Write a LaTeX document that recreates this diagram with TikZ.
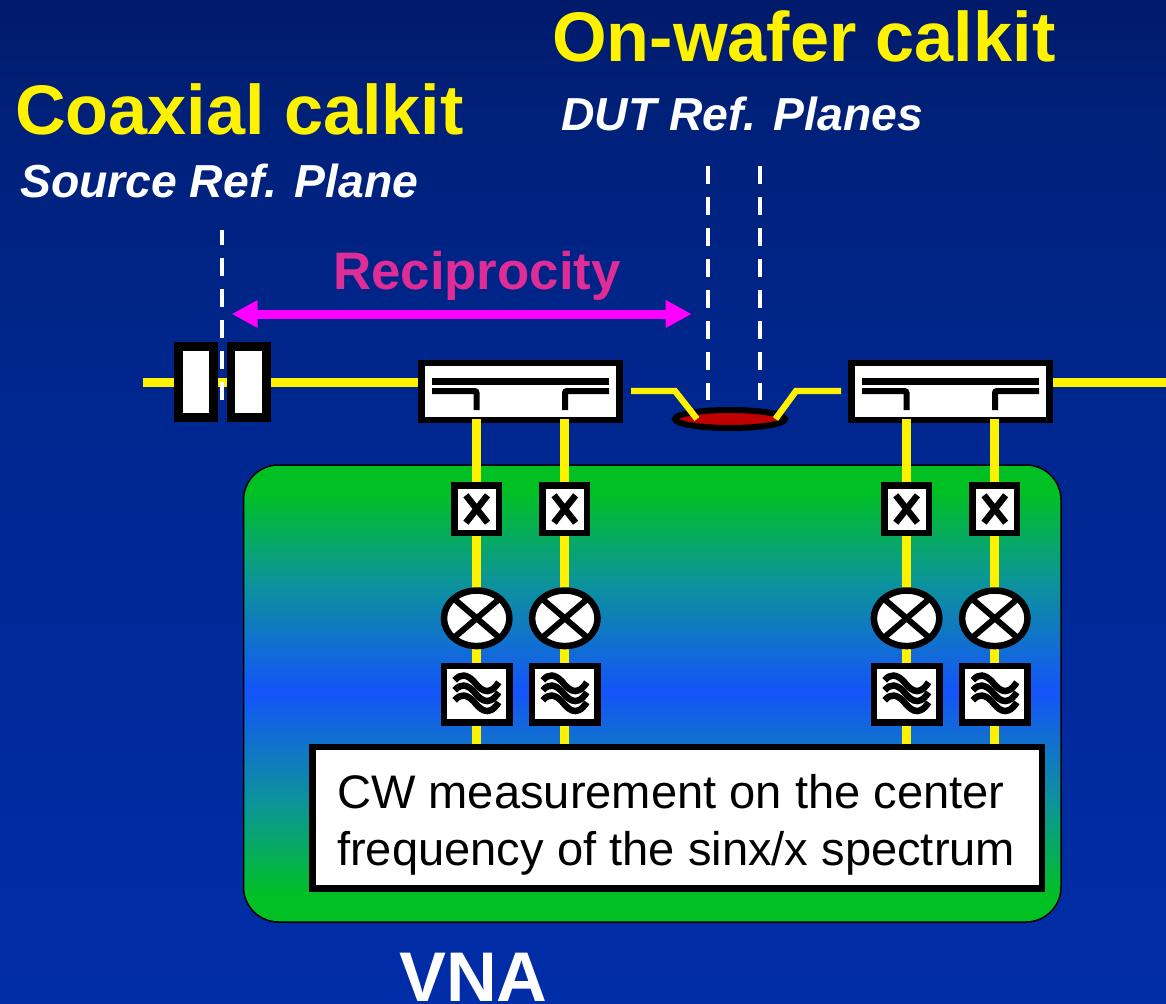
\documentclass[tikz,border=0pt]{standalone}
\usepackage{fontspec}
\setmainfont{Liberation Sans}
\usetikzlibrary{arrows.meta,shapes.geometric,calc}
\definecolor{bgtop}{RGB}{0,26,106}
\definecolor{bgupper}{RGB}{0,32,120}
\definecolor{bgmid}{RGB}{0,38,140}
\definecolor{bgmidb}{RGB}{0,42,156}
\definecolor{bgbot}{RGB}{0,45,168}
\definecolor{vnagreen}{RGB}{0,192,36}
\definecolor{vnateal}{RGB}{12,150,150}
\definecolor{vnablue}{RGB}{20,84,250}
\definecolor{relred}{RGB}{192,0,0}
\definecolor{recip}{RGB}{224,44,150}
\definecolor{arrowm}{RGB}{255,0,255}
\pgfdeclareverticalshading{bgshade}{100bp}{color(0bp)=(bgbot); color(25bp)=(bgbot); color(40.1bp)=(bgmidb); color(57.6bp)=(bgmid); color(70bp)=(bgupper); color(75bp)=(bgtop); color(100bp)=(bgtop)}
\pgfdeclareverticalshading{vnashade}{100bp}{color(0bp)=(vnagreen); color(28bp)=(vnagreen); color(37.7bp)=(vnateal); color(50.2bp)=(vnablue); color(62.6bp)=(vnateal); color(72bp)=(vnagreen); color(100bp)=(vnagreen)}
\tikzset{
  x=1pt,y=-1pt,
  wire/.style={draw=yellow,line width=9pt},
  thin wire/.style={draw=yellow,line width=6.3pt},
  plane/.style={draw=white,line width=4pt,dash pattern=on 18pt off 13pt,dash phase=3pt},
  blk/.style={draw=black,fill=white,line width=6.5pt,inner sep=0pt},
  calbox/.style={blk,line width=8.7pt,minimum width=35.3pt,minimum height=70.7pt},
  couplerbox/.style={blk,minimum width=198pt,minimum height=57pt},
  xbox/.style={blk,minimum width=44.3pt,minimum height=47.5pt},
  mixer/.style={blk,ellipse,minimum width=65.5pt,minimum height=55.5pt},
  filt/.style={blk,minimum width=65.5pt,minimum height=56.8pt},
  glyph/.style={draw=black,line width=6.5pt},
  ink/.style={draw=black,line width=6.5pt},
  title/.style={font=\bfseries\fontsize{70.2}{70}\selectfont,text=yellow,anchor=base west,inner sep=0pt},
  sub/.style={font=\bfseries\itshape\fontsize{46.3}{46}\selectfont,text=white,anchor=base west,inner sep=0pt},
  body/.style={anchor=base west,inner sep=0pt,font=\fontsize{47.1}{47}\selectfont,text=black},
}
\newcommand{\branch}[2]{%
  \node[xbox] (x#1) at (#2,509) {};
  \draw[glyph] ($(x#1)+(-10.8,-13.7)$) -- ($(x#1)+(10.8,13.7)$);
  \draw[glyph] ($(x#1)+(-10.8,13.7)$) -- ($(x#1)+(10.8,-13.7)$);
  \node[mixer] (m#1) at (#2,618.3) {};
  \draw[glyph,line width=6pt] ($(m#1)+(-21,-18)$) -- ($(m#1)+(21,18)$);
  \draw[glyph,line width=6pt] ($(m#1)+(-21,18)$) -- ($(m#1)+(21,-18)$);
  \node[filt] (f#1) at (#2,694.3) {};
  \foreach \dy in {-10,0,10}{
    \draw[glyph,line width=6.5pt] ($(f#1)+(-22,{\dy-4})$) .. controls ($(f#1)+(-16,{\dy-11})$) and ($(f#1)+(-10,{\dy-10})$) .. ($(f#1)+(-3,{\dy-3})$) .. controls ($(f#1)+(2,{\dy+3})$) and ($(f#1)+(11,{\dy+15})$) .. ($(f#1)+(22,{\dy-2})$);
  }
}
\newcommand{\coupler}[2]{%
  \node[couplerbox] (#1) at (#2,391.5) {};
  \draw[ink] ($(#1)+(-88.5,-10)$) -- ($(#1)+(88.5,-10)$);
  \draw[ink,line width=6pt,rounded corners=2pt] ($(#1)+(-88.5,-0.5)$) -- ($(#1)+(-44,-0.5)$) -- ($(#1)+(-44,18.5)$);
  \draw[ink,line width=6pt,rounded corners=2pt] ($(#1)+(88.5,-0.5)$) -- ($(#1)+(44.5,-0.5)$) -- ($(#1)+(44.5,18.5)$);
}
\begin{document}
\begin{tikzpicture}
\useasboundingbox (0,0) rectangle (1166,1003);
\shade[shading=bgshade] (0,0) rectangle (1166,1003);
% VNA body
\shade[shading=vnashade,rounded corners=35pt] (243.5,465) rectangle (1061,922);
\draw[black,line width=1.5pt,rounded corners=35pt] (243.5,465) rectangle (1061,922);
% labels
\node[title] (t1) at (552,62) {On-wafer calkit};
\node[title] (t2) at (15,135) {Coaxial calkit};
\node[sub] (s1) at (561,131) {DUT Ref. Planes};
\node[sub] (s2) at (20,197) {Source Ref. Plane};
\node[font=\bfseries\fontsize{52.8}{52}\selectfont,text=recip,anchor=base west,inner sep=0pt] (rc) at (333,289) {Reciprocity};
\node[font=\bfseries\fontsize{70.3}{70}\selectfont,text=white,anchor=base west,inner sep=0pt] (vna) at (399,1001.5) {VNA};
% wires
\coordinate (wl) at (143,382);
\coordinate (wr) at (1166,382);
\coordinate (pl) at (631,391);
\coordinate (pr) at (841,391);
\node[calbox] (c1) at (196,382) {};
\node[calbox] (c2) at (248.7,382) {};
\coupler{ca}{520.5}
\coupler{cb}{950.5}
\draw[wire] (wl) -- (c1.west);
\draw[wire] (c1.east) -- (c2.west);
\draw[wire] (c2.east) -- (ca.west |- c2.east);
\draw[wire] (cb.east |- wr) -- (wr);
\node[draw=black,fill=relred,ellipse,line width=6pt,minimum width=110pt,minimum height=18pt,inner sep=0pt] (dut) at (730,419) {};
\draw[thin wire] (pl) -- (675,391) -- (697,419);
\draw[thin wire] (pr) -- (796,391) -- (775.5,419);
% branches wires
\foreach \n/\xx in {1/476.7,2/564.8,3/906.6,4/994.8}{
  \draw[wire] (\xx,419) -- (\xx,746);
  \branch{\n}{\xx}
}
% planes
\coordinate (p1a) at (222.3,230); \coordinate (p1b) at (222.3,400);
\coordinate (p2a) at (707.5,165.9); \coordinate (p2b) at (707.5,400);
\coordinate (p3a) at (760.3,165.9); \coordinate (p3b) at (760.3,400);
\draw[plane,dash phase=0pt] (p2a) -- (p2b);
\draw[plane,dash phase=0pt] (p3a) -- (p3b);
\draw[plane] (p1a) -- (p1b);
% arrow
\coordinate (al) at (231.7,314);
\coordinate (ar) at (691.7,314);
\draw[arrowm,line width=9pt,{Triangle[length=26pt,width=26pt]}-{Triangle[length=26pt,width=26pt]}] (al) -- (ar);
% CW box
\node[blk,minimum width=729.5pt,minimum height=141.2pt] (cw) at (677,817.8) {};
\node[body] (cw1) at (337,808) {CW measurement on the center};
\node[body] (cw2) at (337,865) {frequency of the sinx/x spectrum};
\end{tikzpicture}
\end{document}
